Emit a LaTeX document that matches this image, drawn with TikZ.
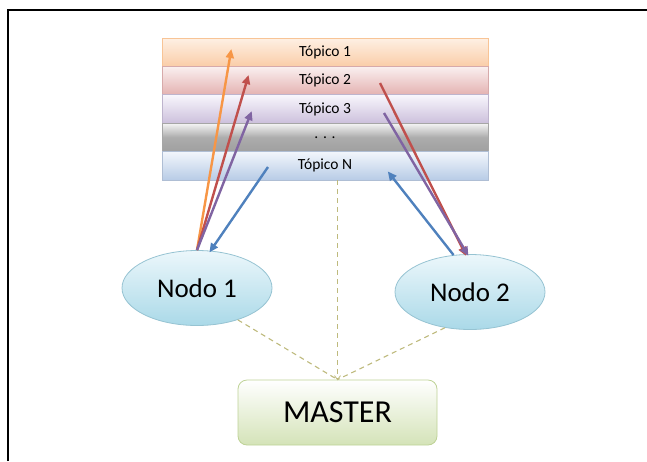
\documentclass[tikz,border=0pt]{standalone}
\usepackage{fontspec}
\setmainfont{Carlito}
\usetikzlibrary{shapes.geometric,arrows.meta,calc}

\definecolor{arOrange}{RGB}{247,150,70}
\definecolor{arRed}{RGB}{192,80,77}
\definecolor{arPurple}{RGB}{128,100,162}
\definecolor{arBlue}{RGB}{79,129,189}
\definecolor{dashCol}{RGB}{190,186,125}
\definecolor{rowOrangeT}{RGB}{254,240,228}
\definecolor{rowOrangeB}{RGB}{250,205,168}
\definecolor{rowOrangeL}{RGB}{248,196,150}
\definecolor{rowRedT}{RGB}{250,240,240}
\definecolor{rowRedB}{RGB}{228,178,177}
\definecolor{rowRedL}{RGB}{215,170,170}
\definecolor{rowVioT}{RGB}{248,246,252}
\definecolor{rowVioB}{RGB}{204,192,220}
\definecolor{rowVioL}{RGB}{190,180,205}
\definecolor{rowBlueT}{RGB}{242,246,252}
\definecolor{rowBlueB}{RGB}{184,204,230}
\definecolor{rowBlueL}{RGB}{175,190,212}
\definecolor{nodoT}{RGB}{236,247,251}
\definecolor{nodoB}{RGB}{170,217,232}
\definecolor{nodoL}{RGB}{150,195,210}
\definecolor{masterB}{RGB}{212,227,184}
\definecolor{masterL}{RGB}{190,210,150}

\tikzset{
  topicrow/.style={draw, line width=0.8pt, minimum width=326pt, minimum height=28.4pt,
    inner sep=0pt, font=\fontsize{15.5}{17}\selectfont, text=black},
  nodo/.style={ellipse, draw=nodoL, line width=0.8pt, minimum width=150pt,
    minimum height=75pt, inner sep=0pt, top color=nodoT, bottom color=nodoB,
    font=\fontsize{27}{30}\selectfont},
  masterbox/.style={draw=masterL, line width=0.8pt, rounded corners=9pt,
    minimum width=199pt, minimum height=65pt, inner sep=0pt, top color=white,
    bottom color=masterB, font=\fontsize{32}{36}\selectfont},
  msg/.style={line width=2.4pt, -{Triangle[length=9pt,width=8pt]}, shorten >=-2pt},
  link/.style={dashCol, line width=1.1pt, dash pattern=on 5pt off 4pt},
}

\begin{document}
\begin{tikzpicture}[x=1pt,y=-1pt]
\useasboundingbox (0,0) rectangle (647,461);
% outer frame
\draw[line width=2pt] (8,461) -- (8,10) -- (647,10);

% topic stack
\node[topicrow, draw=rowOrangeL, top color=rowOrangeT, bottom color=rowOrangeB] (t1) at (325,52.2) {Tópico 1};
\node[topicrow, draw=rowRedL, top color=rowRedT, bottom color=rowRedB] (t2) at (325,80.6) {Tópico 2};
\node[topicrow, draw=rowVioL, top color=rowVioT, bottom color=rowVioB] (t3) at (325,109) {Tópico 3};
\node[topicrow, draw=gray!70, top color=gray!8, bottom color=gray!75, middle color=gray!65] (t4) at (325,137.4) {. . .};
\node[topicrow, draw=rowBlueL, top color=rowBlueT, bottom color=rowBlueB] (tn) at (325,165.8) {Tópico N};

% nodes and master
\node[nodo] (n1) at (197,288) {Nodo 1};
\node[nodo] (n2) at (470,292) {Nodo 2};
\node[masterbox] (master) at (337.5,412.5) {MASTER};

% registration links to the master
\draw[link] (master.north |- tn.south) -- (master.north);
\draw[link] (n1.-38) -- (master.north);
\draw[link] (n2.-125) -- (master.north);
\draw[dashCol, line width=0.8pt] ($(master.north)+(-3,-4)$) -- (master.north) -- ($(master.north)+(3,-4)$);

% points inside the topic rows
\coordinate (p1) at (231,51);
\coordinate (p2) at (248,77);
\coordinate (p3) at (251,113);
\coordinate (pn) at (268,167);
\coordinate (q2) at (380,83);
\coordinate (q3) at (384,113);
\coordinate (qn) at (389,173);

% Nodo 1 publishes / subscribes
\draw[msg, arOrange] (n1.north) -- (p1);
\draw[msg, arRed] (n1.north) -- (p2);
\draw[msg, arPurple] (n1.north) -- (p3);
\draw[msg, arBlue] (pn) -- (n1.70);

% Nodo 2 publishes / subscribes
\draw[msg, arRed] (q2) -- (n2.97);
\draw[msg, arPurple] (q3) -- (n2.94);
\draw[msg, arBlue] (n2.114) -- (qn);
\end{tikzpicture}
\end{document}
